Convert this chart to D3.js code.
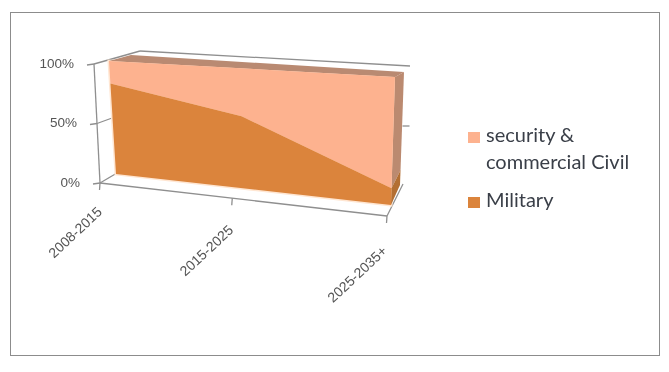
<!DOCTYPE html>
<html>
<head>
<meta charset="utf-8">
<script src="https://cdn.jsdelivr.net/npm/d3@7"></script>
<style>
  html, body { margin: 0; padding: 0; background: #fff; }
  svg { display: block; filter: blur(0.35px); }
</style>
</head>
<body>
<div id="chart"></div>
<script>
// values
const categories = ['2008-2015', '2015-2025', '2025-2035+'];
const military = [80, 60, 13];
const civil = [20, 40, 87];
const yTicks = [0, 50, 100];
const legendLabels = [['security &', 'commercial Civil'], ['Military']];

const width = 669;
const height = 372;

const svg = d3.select('#chart')
  .append('svg')
  .attr('width', width)
  .attr('height', height);

// picture frame
svg.append('rect')
  .attr('x', 10.5)
  .attr('y', 12.5)
  .attr('width', 649)
  .attr('height', 343)
  .attr('fill', '#fff')
  .attr('stroke', '#8c8c8c');

// Scales
const xScale = d3.scalePoint().domain(categories).range([0, 1]);
const yScale = d3.scaleLinear().domain([0, 100]).range([0, 1]);

// the chart is a tilted box, so scale positions go through a projection
const foreshorten = u => u / (u + (1 - u) * 1.17);

function makeProjection(c) {
  const mix = (a, b, t) => [a[0] + (b[0] - a[0]) * t, a[1] + (b[1] - a[1]) * t];
  return (u, v, d) => {
    const t = foreshorten(u);
    const front = mix(mix(c.fbl, c.fbr, t), mix(c.ftl, c.ftr, t), v);
    const back = mix(mix(c.bbl, c.bbr, t), mix(c.btl, c.btr, t), v);
    return mix(front, back, d);
  };
}

// corners of the axis box and of the area block inside it
const frame = makeProjection({
  fbl: [100, 183], fbr: [387, 216], ftl: [94, 64], ftr: [384, 82],
  bbl: [117, 173], bbr: [403, 184], btl: [140, 51], btr: [410, 66]
});
const block = makeProjection({
  fbl: [116, 174], fbr: [391, 205], ftl: [109, 61], ftr: [395, 77],
  bbl: [131, 168], bbr: [400, 185], btl: [131, 55], btr: [404, 72]
});

const line = d3.line();
const axisColor = '#8f8f8f';
const labelFont = '"Liberation Sans", Arial, sans-serif';

function seg(a, b, w) {
  svg.append('line')
    .attr('x1', a[0]).attr('y1', a[1])
    .attr('x2', b[0]).attr('y2', b[1])
    .attr('stroke', axisColor)
    .attr('stroke-width', w || 1.3);
}

// Box lines
seg(frame(0, 0, 0), frame(0, 1, 0));
seg(frame(0, 1, 0), frame(0, 1, 1));
seg(frame(0, 1, 1), frame(1, 1, 1));
seg(frame(0, 0, 0), frame(1, 0, 0));
seg(frame(0, 0, 0), frame(0, 0, 1));
seg(frame(1, 0, 0), frame(1, 0, 1));

// Y ticks and labels
yTicks.forEach(t => {
  const p = frame(0, yScale(t), 0);
  seg([p[0] - 7, p[1] + 1], p);
  if (t === 50) seg(p, frame(0, yScale(t), 1));
  svg.append('text')
    .attr('x', p[0] - 20)
    .attr('y', p[1] + 3.5)
    .attr('text-anchor', 'end')
    .style('font-family', labelFont)
    .style('font-size', '13.5px')
    .style('fill', '#555')
    .text(t + '%');
});

// small tick showing on the right wall
const wallTick = frame(1, yScale(50), 1);
seg([wallTick[0] - 4, wallTick[1] + 1], [wallTick[0] + 3, wallTick[1] + 1]);

// X ticks and labels
categories.forEach(c => {
  const p = frame(xScale(c), 0, 0);
  seg(p, [p[0] - 0.5, p[1] + 7]);
  svg.append('text')
    .attr('transform', `translate(${p[0] + 3 - 2 * xScale(c)},${p[1] + 30 + 6 * xScale(c)}) rotate(-43)`)
    .attr('text-anchor', 'end')
    .style('font-family', labelFont)
    .style('font-size', '14px')
    .style('fill', '#555')
    .text(c);
});

// Stack the two series
const rows = categories.map((c, i) => ({ category: c, military: military[i], civil: civil[i] }));
const stacked = d3.stack().keys(['military', 'civil'])(rows);
const us = categories.map(c => xScale(c));

const colors = {
  civil: '#fdb28f',
  military: '#db843c',
  top: '#b98a72',
  sideCivil: '#bb8a70',
  sideMilitary: '#b36f33',
  edge: '#ffe6d2'
};

function band(layer, d) {
  const lower = layer.map((p, i) => block(us[i], yScale(p[0]), d));
  const upper = layer.map((p, i) => block(us[i], yScale(p[1]), d));
  return upper.concat(lower.reverse());
}

// pale rim round the front face
svg.append('path')
  .attr('d', line(band(stacked[0], 0).slice(3).concat(band(stacked[1], 0).slice(0, 3))) + 'Z')
  .attr('fill', colors.edge)
  .attr('stroke', colors.edge)
  .attr('stroke-width', 3);

// top surface
const last = us.length - 1;
svg.append('path')
  .attr('d', line([block(0, 1, 0), block(0, 1, 1), block(1, 1, 1), block(1, 1, 0)]) + 'Z')
  .attr('fill', colors.top);

// right hand side faces
const seriesTop = stacked[0][last][1];
svg.append('path')
  .attr('d', line([block(1, yScale(seriesTop), 0), block(1, 1, 0), block(1, 1, 1), block(1, yScale(seriesTop), 1)]) + 'Z')
  .attr('fill', colors.sideCivil);
svg.append('path')
  .attr('d', line([block(1, 0, 0), block(1, yScale(seriesTop), 0), block(1, yScale(seriesTop), 1), block(1, 0, 1)]) + 'Z')
  .attr('fill', colors.sideMilitary);

// front faces
svg.append('path')
  .attr('d', line(band(stacked[1], 0)) + 'Z')
  .attr('fill', colors.civil);
svg.append('path')
  .attr('d', line(band(stacked[0], 0)) + 'Z')
  .attr('fill', colors.military);

// Legend
const legendFont = 'Lato, "Open Sans", sans-serif';
const legendSwatches = [colors.civil, colors.military];
const legendTop = [132, 197];
const legendBase = [[142, 169], [207]];
legendLabels.forEach((lines, i) => {
  svg.append('rect')
    .attr('x', 468)
    .attr('y', legendTop[i])
    .attr('width', 12)
    .attr('height', 11)
    .attr('fill', legendSwatches[i]);
  lines.forEach((l, j) => {
    svg.append('text')
      .attr('x', 486)
      .attr('y', legendBase[i][j])
      .style('font-family', legendFont)
      .style('font-size', '20px')
      .style('fill', '#3a3f48')
      .text(l);
  });
});
</script>
</body>
</html>
